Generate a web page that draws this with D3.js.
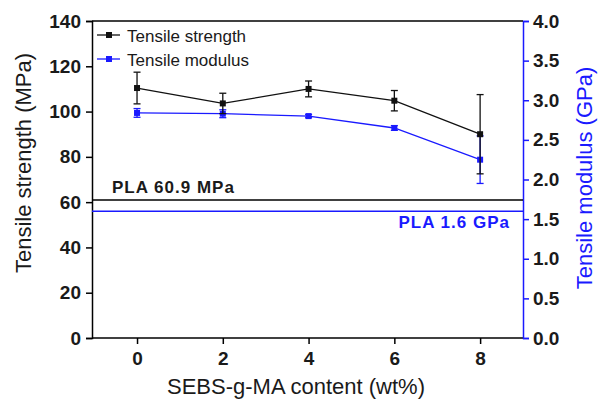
<!DOCTYPE html>
<html><head><meta charset="utf-8">
<script src="https://cdn.jsdelivr.net/npm/d3@7"></script>
<style>body{margin:0;background:#fff}svg{display:block}text{font-family:Arial,"Liberation Sans",sans-serif}</style>
</head><body><svg id="c" width="598" height="401"></svg>
<script>
const content = [0, 2, 4, 6, 8];
const strength = [110.4, 103.6, 110.0, 104.8, 90.0];
const strengthErr = [7.0, 4.5, 3.5, 4.5, 17.5];
const modulus = [2.84, 2.83, 2.80, 2.65, 2.25];
const modulusErr = [0.055, 0.05, 0.02, 0.03, 0.30];
const plaStrength = 60.9;
const plaModulus = 1.6;
const xTicks = [0, 2, 4, 6, 8];
const yLeftTicks = [0, 20, 40, 60, 80, 100, 120, 140];
const yRightTicks = [0, 0.5, 1.0, 1.5, 2.0, 2.5, 3.0, 3.5, 4.0];

const svg = d3.select("#c");
const L = 92, R = 523, T = 21, B = 338;
const BLUE = "#1a1aff";
const x = d3.scaleLinear().domain([-1.05, 9]).range([L, R]);
const yL = d3.scaleLinear().domain([0, 140]).range([B, T]);
const yR = d3.scaleLinear().domain([0, 4]).range([B, T]);

const gx = svg.append("g").attr("transform", `translate(0,${B})`);
gx.call(d3.axisBottom(x).tickValues([1,3,5,7]).tickSize(4).tickFormat(""));
gx.call(d3.axisBottom(x).tickValues(xTicks).tickSize(6).tickPadding(8).tickFormat(d3.format("d")));
gx.select(".domain").attr("d", `M${L},0H${R}`);
gx.selectAll("line,path").attr("stroke", "#000").attr("stroke-width", 1.5);
gx.selectAll("text").attr("font-size", 19).attr("font-weight", "bold").attr("fill", "#1a1a1a");

const gl = svg.append("g").attr("transform", `translate(${L},0)`);
gl.call(d3.axisLeft(yL).tickValues(d3.range(10, 140, 20)).tickSize(4).tickFormat(""));
gl.call(d3.axisLeft(yL).tickValues(yLeftTicks).tickSize(6).tickPadding(5).tickFormat(d3.format("d")));
gl.selectAll("line,path").attr("stroke", "#000").attr("stroke-width", 1.5);
gl.selectAll("text").attr("font-size", 19).attr("font-weight", "bold").attr("fill", "#1a1a1a");

const gr = svg.append("g").attr("transform", `translate(${R},0)`);
gr.call(d3.axisRight(yR).tickValues(d3.range(0.25, 4, 0.5)).tickSize(4).tickFormat(""));
gr.call(d3.axisRight(yR).tickValues(yRightTicks).tickSize(6).tickPadding(4).tickFormat(d3.format(".1f")));
gr.selectAll("line,path").attr("stroke", BLUE).attr("stroke-width", 1.5);
gr.selectAll("text").attr("font-size", 19).attr("font-weight", "bold").attr("fill", "#1a1a1a");

svg.append("line").attr("x1", L).attr("x2", R).attr("y1", T).attr("y2", T).attr("stroke", "#000").attr("stroke-width", 1.5);

svg.append("line").attr("x1", L).attr("x2", R).attr("y1", yL(plaStrength)).attr("y2", yL(plaStrength)).attr("stroke", "#000").attr("stroke-width", 1.5);
svg.append("line").attr("x1", L).attr("x2", R).attr("y1", yR(plaModulus)).attr("y2", yR(plaModulus)).attr("stroke", BLUE).attr("stroke-width", 1.5);
svg.append("text").attr("x", 112).attr("y", yL(plaStrength) - 7).attr("font-size", 17).attr("letter-spacing", 1).attr("font-weight", "bold").attr("fill", "#1a1a1a").text("PLA 60.9 MPa");
svg.append("text").attr("x", 510).attr("y", yR(plaModulus) + 17).attr("text-anchor", "end").attr("font-size", 17).attr("letter-spacing", 1).attr("font-weight", "bold").attr("fill", BLUE).text("PLA 1.6 GPa");

function series(vals, errs, y, color) {
  const g = svg.append("g");
  g.append("path").datum(vals).attr("fill", "none").attr("stroke", color).attr("stroke-width", 1.3)
    .attr("d", d3.line().x((d, i) => x(content[i])).y(d => y(d)));
  vals.forEach((v, i) => {
    const cx = x(content[i]);
    g.append("line").attr("x1", cx).attr("x2", cx).attr("y1", y(v - errs[i])).attr("y2", y(v + errs[i])).attr("stroke", color).attr("stroke-width", 1.3);
    [v - errs[i], v + errs[i]].forEach(e => g.append("line").attr("x1", cx - 3.5).attr("x2", cx + 3.5).attr("y1", y(e)).attr("y2", y(e)).attr("stroke", color).attr("stroke-width", 1.3));
    g.append("rect").attr("x", cx - 3).attr("y", y(v) - 3).attr("width", 6).attr("height", 6).attr("fill", color);
  });
}
series(modulus, modulusErr, yR, BLUE);
series(strength, strengthErr, yL, "#111");

[["Tensile strength", "#111", 35], ["Tensile modulus", BLUE, 59]].forEach(([t, c, yy]) => {
  svg.append("line").attr("x1", 97).attr("x2", 120).attr("y1", yy).attr("y2", yy).attr("stroke", c).attr("stroke-width", 1.3);
  svg.append("rect").attr("x", 106).attr("y", yy - 3).attr("width", 6).attr("height", 6).attr("fill", c);
  svg.append("text").attr("x", 127).attr("y", yy + 7).attr("font-size", 17).attr("fill", "#1a1a1a").text(t);
});

svg.append("text").attr("transform", `translate(31,163) rotate(-90)`).attr("text-anchor", "middle").attr("font-size", 22).attr("fill", "#1a1a1a").text("Tensile strength (MPa)");
svg.append("text").attr("transform", `translate(592,178) rotate(-90)`).attr("text-anchor", "middle").attr("font-size", 22).attr("fill", BLUE).text("Tensile modulus (GPa)");
svg.append("text").attr("x", 296).attr("y", 394).attr("text-anchor", "middle").attr("font-size", 22).attr("fill", "#1a1a1a").text("SEBS-g-MA content (wt%)");
</script></body></html>
